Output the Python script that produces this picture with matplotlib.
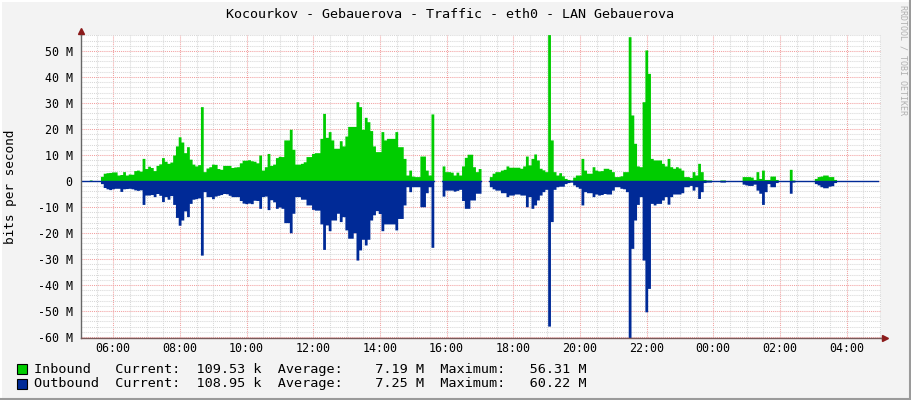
import numpy as np
import matplotlib
matplotlib.use("Agg")
import matplotlib.pyplot as plt
from matplotlib.patches import Rectangle
from matplotlib.lines import Line2D

W, H = 911, 400
nan = np.nan

# 5 minute samples, first one at 05:02, values in Mbit/s (one row per hour)
start_hour = 5.0 + 2 / 60
step_hours = 5 / 60

inbound = [
    0, 0, 0.2, 0.4, 0, 0, 0, 1.8, 3.0, 3.2, 3.3, 3.5,
    3.5, 2.3, 2.5, 3.6, 2.3, 2.7, 2.6, 4.0, 4.2, 3.8, 8.7, 4.8,
    5.7, 5.2, 4.0, 6.0, 6.6, 9.0, 7.6, 6.8, 7.3, 10.0, 13.5, 17.0,
    15.0, 10.9, 13.2, 8.4, 6.5, 5.8, 6.3, 28.6, 3.6, 5.0, 5.5, 6.5,
    6.4, 4.8, 4.5, 6.0, 6.0, 6.0, 5.2, 5.4, 5.5, 7.0, 8.0, 8.0,
    8.2, 7.8, 7.6, 7.0, 10.0, 4.2, 5.5, 10.6, 6.0, 6.5, 9.0, 9.5,
    9.4, 15.8, 15.8, 19.9, 12.2, 6.5, 6.5, 6.8, 7.4, 9.4, 9.4, 10.6,
    10.9, 10.9, 16.4, 26.0, 16.8, 19.0, 15.8, 12.6, 12.6, 15.5, 13.5, 17.3,
    21.0, 21.0, 21.0, 30.5, 28.6, 19.9, 24.5, 22.8, 19.4, 13.5, 11.3, 11.3,
    19.0, 15.8, 16.4, 16.4, 16.4, 19.0, 13.2, 13.2, 8.7, 2.3, 4.2, 1.9,
    1.7, 1.7, 9.6, 9.6, 4.2, 2.3, 25.8, nan, nan, nan, 5.8, 3.6,
    3.6, 3.4, 2.3, 3.4, 2.3, 5.8, 9.1, 10.3, 10.3, 5.5, 3.6, 4.8,
    nan, nan, nan, 1.7, 3.0, 3.6, 3.6, 4.2, 4.5, 5.8, 5.3, 5.3,
    5.3, 5.3, 4.9, 5.8, 9.6, 6.2, 8.7, 10.4, 8.1, 4.9, 4.3, 3.6,
    56.31, 15.8, 3.6, 2.3, 3.2, 2.0, 1.0, 0.6, 0.4, 1.5, 2.3, 2.3,
    8.7, 4.2, 3.0, 3.0, 5.5, 4.2, 3.9, 4.0, 4.9, 4.9, 4.5, 3.6,
    1.7, 1.7, 2.0, 3.6, 3.6, 55.5, 25.4, 14.5, 5.8, 5.5, 30.5, 50.4,
    41.4, 8.7, 8.1, 8.1, 8.1, 6.8, 5.8, 8.7, 5.5, 4.9, 5.5, 5.0,
    4.2, 1.7, 1.7, 1.4, 3.6, 2.3, 6.8, 3.6, 0.6, 0.4, 0.4, 0,
    0, 0, 0.4, 0.4, 0, 0, 0, 0, 0, 0, 1.7, 1.7,
    1.7, 1.5, 0.6, 3.6, 1.0, 4.2, 0.6, 0.6, 1.9, 1.9, 0.6, 0,
    0, 0, 0, 4.5, 0.4, 0, 0, 0, 0, 0, 0, 0,
    1.0, 1.7, 1.9, 2.3, 2.3, 1.7, 1.7, 0.6, 0, 0, 0, 0,
    0, 0, 0, 0, 0, 0, 0, 0, 0, 0, 0, nan,
]

outbound = [
    0, 0, 0, 0.1, 0, 0, 0, 1.0, 2.5, 3.0, 3.3, 3.0,
    2.8, 2.8, 4.0, 3.0, 2.9, 2.8, 3.0, 3.4, 3.6, 3.4, 9.0, 5.4,
    5.4, 5.2, 6.0, 4.8, 5.5, 7.9, 6.0, 7.0, 5.6, 9.0, 14.0, 17.0,
    15.0, 11.5, 13.7, 8.6, 7.0, 6.8, 6.5, 28.5, 4.1, 6.0, 6.0, 6.8,
    5.8, 5.5, 5.2, 4.8, 4.9, 5.5, 6.0, 6.0, 6.0, 7.5, 8.5, 8.7,
    8.5, 8.7, 7.4, 7.5, 10.5, 6.0, 5.8, 11.0, 7.2, 8.0, 10.5, 10.0,
    10.5, 16.0, 16.0, 19.9, 12.4, 6.0, 6.0, 7.0, 7.0, 9.2, 9.2, 10.9,
    11.2, 11.2, 16.5, 26.3, 16.9, 19.1, 15.0, 15.0, 12.4, 15.6, 13.7, 18.8,
    22.0, 22.0, 19.9, 30.4, 26.5, 22.4, 24.6, 22.4, 15.0, 13.0, 11.4, 12.5,
    19.1, 16.5, 16.5, 16.5, 16.5, 18.8, 14.4, 14.4, 9.2, 2.2, 4.1, 2.2,
    2.2, 2.2, 9.9, 9.9, 4.5, 2.2, 25.5, nan, nan, nan, 5.8, 3.5,
    3.5, 3.5, 3.9, 3.6, 3.2, 7.5, 10.5, 10.5, 7.3, 7.3, 4.7, 4.7,
    nan, nan, nan, 2.2, 3.0, 3.5, 3.5, 4.5, 4.5, 6.0, 5.4, 5.4,
    5.0, 5.0, 5.4, 5.4, 9.9, 6.0, 10.5, 9.2, 7.3, 5.4, 4.1, 3.2,
    55.8, 15.6, 3.2, 2.2, 2.0, 2.0, 1.0, 0.6, 0.4, 1.5, 2.2, 2.8,
    9.2, 4.1, 4.5, 4.5, 6.0, 5.0, 5.4, 5.2, 4.8, 5.0, 5.0, 3.5,
    2.2, 2.2, 2.8, 3.0, 4.1, 60.22, 25.9, 15.0, 9.0, 6.0, 30.4, 50.3,
    41.3, 8.6, 9.2, 8.6, 8.6, 7.3, 6.0, 8.9, 6.0, 5.0, 5.0, 5.0,
    4.5, 2.2, 2.2, 1.7, 3.5, 2.2, 6.7, 4.1, 0.6, 0.4, 0.4, 0,
    0, 0, 0.4, 0.4, 0, 0, 0, 0, 0, 0, 1.2, 1.5,
    1.7, 1.7, 1.2, 3.5, 4.7, 9.0, 4.1, 1.0, 2.2, 2.2, 0.6, 0,
    0, 0, 0, 4.7, 0.4, 0, 0, 0, 0, 0, 0, 0,
    1.0, 1.5, 2.2, 2.6, 2.6, 2.0, 1.8, 0.6, 0, 0, 0, 0,
    0, 0, 0, 0, 0, 0, 0, 0, 0, 0, 0, nan,
]

x_ticks = [6, 8, 10, 12, 14, 16, 18, 20, 22, 24, 26, 28]
x_labels = ["06:00", "08:00", "10:00", "12:00", "14:00", "16:00",
            "18:00", "20:00", "22:00", "00:00", "02:00", "04:00"]
y_ticks = [50, 40, 30, 20, 10, 0, -10, -20, -30, -40, -50, -60]
y_labels = ["50 M", "40 M", "30 M", "20 M", "10 M", "0", "-10 M",
            "-20 M", "-30 M", "-40 M", "-50 M", "-60 M"]
y_min, y_max = -60.22, 56.31

title = "Kocourkov - Gebauerova - Traffic - eth0 - LAN Gebauerova"
series_names = ["Inbound", "Outbound"]
current = ["109.53 k", "108.95 k"]
average = ["7.19 M", "7.25 M"]
maximum = ["56.31 M", "60.22 M"]

green = "#00CC00"
blue = "#002A97"
canvas = "#F3F3F3"
mono = "DejaVu Sans Mono"

fig = plt.figure(figsize=(W / 100, H / 100), dpi=100, facecolor=canvas)
ax = fig.add_axes([81 / W, (H - 337.6) / H, 800 / W, 303 / H])
ax.set_facecolor("white")

inb = np.array(inbound, dtype=float)
outb = np.array(outbound, dtype=float)
t = start_hour + step_hours * np.arange(len(inb) + 1)
inb_f = np.nan_to_num(inb)
out_f = np.nan_to_num(outb)
ax.fill_between(t, np.append(inb_f, inb_f[-1]), step="post",
                color=green, lw=0, zorder=3)
ax.fill_between(t, -np.append(out_f, out_f[-1]), step="post",
                color=blue, lw=0, zorder=3)
zero = np.where(np.isnan(inb), np.nan, 0.0)
ax.step(t, np.append(zero, zero[-1]), where="post", color=blue, lw=1, zorder=4)

ax.set_xlim(start_hour, start_hour + 24)
ax.set_ylim(y_min, y_max)

# grid: minor every 30 min / 2 M, major every 2 h / 10 M
ax.set_xticks(x_ticks)
ax.set_xticklabels(x_labels)
ax.set_xticks(np.arange(5.5, 29.1, 0.5), minor=True)
ax.set_yticks(y_ticks)
ax.set_yticklabels(y_labels)
ax.set_yticks(np.arange(-60, 57, 2), minor=True)
ax.set_axisbelow(True)
ax.grid(which="minor", color="#D8D8D8", lw=0.75, ls=(0, (1, 1)))
ax.grid(which="major", color="#F2A0A0", lw=0.75, ls=(0, (1, 1)))
ax.tick_params(which="both", length=0)
ax.tick_params(axis="x", pad=3, labelsize=8.4)
ax.tick_params(axis="y", pad=6, labelsize=8.4)
for lab in ax.get_xticklabels() + ax.get_yticklabels():
    lab.set_family(mono)

for s in ["top", "right"]:
    ax.spines[s].set_visible(False)
ax.spines["left"].set_color("#666666")
ax.spines["bottom"].set_color("#7A5A5A")
ax.spines["left"].set_linewidth(1)
ax.spines["bottom"].set_linewidth(1)
ax.spines["left"].set_zorder(5)
ax.spines["bottom"].set_zorder(5)
# extend axes to the arrow heads
ax.add_line(Line2D([0, 0], [1, 1.012], transform=ax.transAxes,
                   color="#666666", lw=1, clip_on=False))
ax.add_line(Line2D([1, 1.004], [0, 0], transform=ax.transAxes,
                   color="#7A5A5A", lw=1, clip_on=False))
ax.plot([0], [1.012], marker="^", ms=4, color="#8B1A1A",
        transform=ax.transAxes, clip_on=False)
ax.plot([1.005], [0], marker=">", ms=4, color="#8B1A1A",
        transform=ax.transAxes, clip_on=False)

fig.text(450 / W, 1 - 15 / H, title, family=mono, size=9.6,
         ha="center", va="center")
fig.text(11 / W, 1 - 187 / H, "bits per second", family=mono, size=9.2,
         rotation=90, ha="center", va="center")
fig.text(903 / W, 1 - 5 / H, "RRDTOOL / TOBI OETIKER", family=mono, size=6,
         rotation=270, ha="center", va="top", color="#B0B0B0")

# legend
for i, name in enumerate(series_names):
    y = 369 + 15 * i
    col = [green, blue][i]
    fig.add_artist(Rectangle((17 / W, 1 - (y + 5) / H), 10 / W, 10 / H,
                             facecolor=col, edgecolor="black", lw=0.8,
                             transform=fig.transFigure))
    line = (f"{name:<10}Current:  {current[i]:>8}  Average:  {average[i]:>8}"
            f"  Maximum:  {maximum[i]:>8}")
    fig.text(34.4 / W, 1 - y / H, line, family=mono, size=9.7,
             ha="left", va="center")

# 3d frame
fig.add_artist(Line2D([0, 1], [1 - 0.5 / H, 1 - 0.5 / H], color="white", lw=1.5))
fig.add_artist(Line2D([0.5 / W, 0.5 / W], [0, 1], color="white", lw=1.5))
fig.add_artist(Line2D([0, 1], [1.5 / H, 1.5 / H], color="#9A9A9A", lw=1.5))
fig.add_artist(Line2D([1 - 1.5 / W, 1 - 1.5 / W], [0, 1], color="#9A9A9A", lw=1.5))

fig.savefig("out.png", dpi=100, facecolor=canvas)
